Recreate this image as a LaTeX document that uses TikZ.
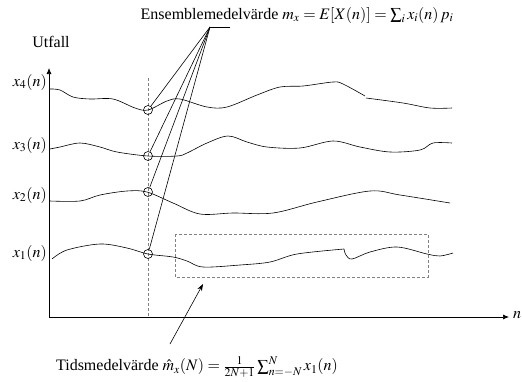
\documentclass[tikz,border=0pt]{standalone}
\usepackage{mathptmx}
\usepackage{fontspec}
\setmainfont{Liberation Serif}
\usetikzlibrary{arrows.meta}
\tikzset{
  curve/.style={line width=0.6pt, smooth, tension=0.55},
  axis/.style={line width=0.7pt, -{Latex[length=6pt,width=5pt]}},
  guide/.style={gray, dashed, dash pattern=on 3pt off 2pt, line width=0.5pt},
  ring/.style={circle, draw, line width=0.6pt, minimum size=9pt, inner sep=0pt},
  lead/.style={line width=0.6pt},
  lbl/.style={font=\fontsize{16}{19}\selectfont, inner sep=1pt},
}
\begin{document}
\begin{tikzpicture}[x=1pt,y=-1pt]
\useasboundingbox (0,0) rectangle (522,381);
% axes
\coordinate (o) at (49,317);
\coordinate (ytop) at (49,68);
\coordinate (xend) at (509,317);
\draw[axis] (o) -- (ytop);
\draw[axis] (o) -- (xend);
\node[lbl] (utfall) at (51,42) {Utfall};
\node[lbl, anchor=west] (nlab) at (512,315) {$n$};
% dashed vertical
\coordinate (vtop) at (148,78);
\coordinate (vbot) at (148,317);
\draw[guide] (vtop) -- (vbot);
% dashed box
\coordinate (b1) at (175,234);
\coordinate (b2) at (428,277);
\draw[guide] (b1) rectangle (b2);
% labels
\node[lbl, anchor=east] (l4) at (48,82) {$x_4(n)$};
\node[lbl, anchor=east] (l3) at (48,145) {$x_3(n)$};
\node[lbl, anchor=east] (l2) at (48,195) {$x_2(n)$};
\node[lbl, anchor=east] (l1) at (48,253) {$x_1(n)$};
% curve x4
\draw[curve] plot coordinates {(50,89) (60,90) (73,97) (90,99) (113,99) (135,108) (148,110) (167,101) (180,99) (207,107) (227,107) (257,95) (280,87) (303,86) (333,82) (343,84) (365,96)};
\draw[curve] plot coordinates {(366,98) (403,103) (430,108) (452,108)};
% curve x3
\draw[curve] plot coordinates {(50,149) (60,147) (80,143) (100,147) (117,152) (148,156) (177,156) (187,153) (207,143) (228,136) (247,142) (267,147) (300,148) (333,141) (360,147) (390,152) (420,150) (433,143) (452,143)};
% curve x2
\draw[curve] plot coordinates {(50,201) (80,201) (100,195) (127,191) (147,192) (173,203) (200,214) (233,213) (273,213) (317,202) (370,191) (400,195) (450,203)};
% curve x1
\draw[curve] plot coordinates {(52,259) (67,250) (100,244) (127,248) (148,254) (173,257) (187,261) (203,267) (240,265) (270,262) (297,254) (344,249)};
\draw[curve] plot coordinates {(344,249) (346,255) (352,259) (370,252) (397,247) (427,254) (440,256) (453,253)};
% circles
\node[ring] (c4) at (148,110) {};
\node[ring] (c3) at (148,156) {};
\node[ring] (c2) at (148,192) {};
\node[ring] (c1) at (148,254) {};
% ensemble label
\node[lbl] (ens) at (297,15) {Ensemblemedelvärde $m_x=E[X(n)]=\sum_i x_i(n)\,p_i$};
\coordinate (conv) at (210,27);
\coordinate (convend) at (230,27);
\draw[lead] (convend) -- (conv);
\draw[lead] (conv) -- (c4);
\draw[lead] (conv) -- (c3);
\draw[lead] (conv) -- (c2);
\draw[lead] (conv) -- (c1);
% time average label
\node[lbl] (tid) at (197,367) {Tidsmedelvärde $\hat{m}_x(N)=\frac{1}{2N+1}\sum_{n=-N}^{N}x_1(n)$};
\coordinate (tail) at (170,344);
\coordinate (tip) at (203,284);
\draw[lead, -{Stealth[length=7pt,width=5pt]}] (tail) -- (tip);
\end{tikzpicture}
\end{document}
